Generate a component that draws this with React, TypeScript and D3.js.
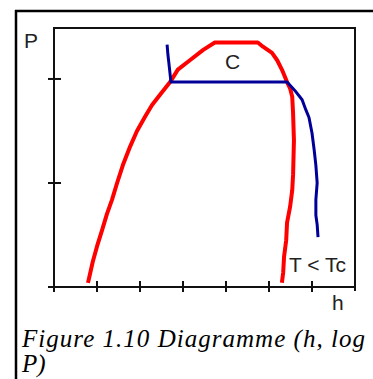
import React from "react";
import * as d3 from "d3";

// Saturation dome (h, log P), in axis units: h along x, log P along y
const domeH = [0.79, 0.84, 0.9, 1.0, 1.12, 1.23, 1.35, 1.46, 1.6, 1.77, 1.93, 2.12, 2.28, 2.47, 2.7, 2.88, 3.16, 3.47, 3.74, 4.74, 4.86, 5.07, 5.19, 5.3, 5.42, 5.49, 5.54, 5.56, 5.58, 5.56, 5.54, 5.49, 5.42, 5.4, 5.35, 5.33, 5.3];
const domeP = [0.04, 0.13, 0.24, 0.39, 0.55, 0.7, 0.84, 0.99, 1.17, 1.35, 1.5, 1.64, 1.75, 1.85, 1.97, 2.09, 2.18, 2.28, 2.35, 2.35, 2.31, 2.25, 2.18, 2.09, 1.97, 1.91, 1.83, 1.67, 1.41, 1.08, 0.93, 0.77, 0.62, 0.45, 0.29, 0.14, 0.04];

// Isotherm below the critical temperature
const isoH = [2.63, 2.65, 2.67, 2.72, 5.42, 5.6, 5.77, 5.86, 5.93, 6.0, 6.05, 6.09, 6.12, 6.09, 6.09, 6.12, 6.14];
const isoP = [2.33, 2.23, 2.16, 1.97, 1.97, 1.89, 1.8, 1.7, 1.63, 1.48, 1.32, 1.17, 1.0, 0.84, 0.69, 0.6, 0.48];

const hTicks = [1, 2, 3, 4, 5, 6];
const pTicks = [1, 2];

const W = 373;
const H = 379;
const left = 54;
const right = 355;
const top = 28;
const bottom = 287;

export default function App() {
  const x = d3.scaleLinear().domain([0, 7]).range([left, right]);
  const y = d3.scaleLinear().domain([0, 2.49]).range([bottom, top]);

  const line = d3
    .line<[number, number]>()
    .x((d) => x(d[0]))
    .y((d) => y(d[1]))
    .curve(d3.curveLinear);

  const dome = line(domeH.map((h, i) => [h, domeP[i]] as [number, number])) || "";
  const iso = line(isoH.map((h, i) => [h, isoP[i]] as [number, number])) || "";

  const label = { fontFamily: "'Liberation Sans', Arial, sans-serif", fontSize: 21, fill: "#222" };

  return (
    <svg
      width={W}
      height={H}
      style={{ position: "absolute", left: 0, top: 0, background: "#fff" }}
    >
      {/* outer figure border */}
      <line x1={15} y1={11} x2={W} y2={11} stroke="#000" strokeWidth={2.5} />
      <line x1={16} y1={10} x2={16} y2={H} stroke="#000" strokeWidth={2.5} />

      {/* plot frame */}
      <rect x={left} y={top} width={right - left} height={bottom - top} fill="none" stroke="#111" strokeWidth={2} />
      <line x1={left - 6} y1={bottom} x2={right} y2={bottom} stroke="#111" strokeWidth={2} />
      <line x1={left} y1={bottom} x2={left} y2={bottom + 5} stroke="#111" strokeWidth={2} />
      <line x1={right} y1={bottom} x2={right} y2={bottom + 4} stroke="#111" strokeWidth={2} />

      {hTicks.map((t) => (
        <line key={"h" + t} x1={x(t)} x2={x(t)} y1={bottom - 6} y2={bottom + 5} stroke="#111" strokeWidth={2} />
      ))}
      {pTicks.map((t) => (
        <line key={"p" + t} x1={left - 6} x2={left + 7} y1={y(t)} y2={y(t)} stroke="#111" strokeWidth={2} />
      ))}

      {/* curves */}
      <path d={dome} fill="none" stroke="#ff0000" strokeWidth={4} strokeLinejoin="round" strokeLinecap="butt" />
      <path d={iso} fill="none" stroke="#000099" strokeWidth={3} strokeLinejoin="round" strokeLinecap="butt" />

      {/* labels */}
      <text x={24} y={48} {...label}>P</text>
      <text x={332} y={310} {...label}>h</text>
      <text x={225} y={69} {...label}>C</text>
      <text x={289} y={272} {...label}>T &lt; Tc</text>

      {/* caption */}
      <text
        x={22}
        y={347}
        fontFamily="'Liberation Serif', 'Times New Roman', serif"
        fontStyle="italic"
        fontSize={25}
        fill="#000"
        textLength={343}
        lengthAdjust="spacing"
      >
        Figure 1.10 Diagramme (h, log
      </text>
      <text
        x={22}
        y={372}
        fontFamily="'Liberation Serif', 'Times New Roman', serif"
        fontStyle="italic"
        fontSize={25}
        fill="#000"
      >
        P)
      </text>
    </svg>
  );
}
